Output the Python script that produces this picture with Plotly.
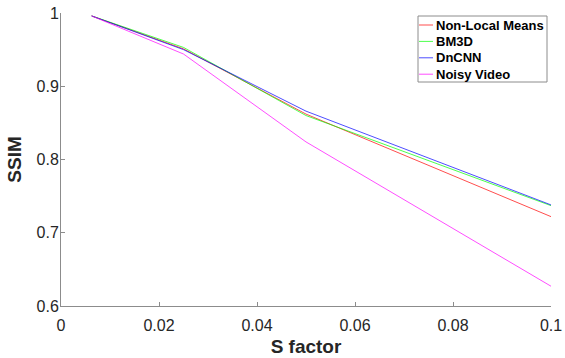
import plotly.graph_objects as go

s_factor = [0.00625, 0.025, 0.05, 0.1]
nlm = [0.996, 0.951, 0.862, 0.722]
bm3d = [0.996, 0.953, 0.860, 0.737]
dncnn = [0.996, 0.950, 0.866, 0.738]
noisy = [0.996, 0.944, 0.824, 0.627]

series = [
    ("Non-Local Means", nlm, "#ff0000"),
    ("BM3D", bm3d, "#00ff00"),
    ("DnCNN", dncnn, "#0000ff"),
    ("Noisy Video", noisy, "#ff00ff"),
]

x_ticks = [0, 0.02, 0.04, 0.06, 0.08, 0.1]
x_tick_text = ["0", "0.02", "0.04", "0.06", "0.08", "0.1"]
y_ticks = [0.6, 0.7, 0.8, 0.9, 1.0]
y_tick_text = ["0.6", "0.7", "0.8", "0.9", "1"]

W, H = 565, 358
ML, MR, MT, MB = 61, 14, 13, 52
PW, PH = W - ML - MR, H - MT - MB


def px_x(p):
    return (p - ML) / PW


def px_y(p):
    return (H - MB - p) / PH


fig = go.Figure()
for name, vals, col in series:
    fig.add_trace(go.Scatter(x=s_factor, y=vals, mode="lines", name=name,
                             line=dict(color=col, width=0.7), showlegend=False))

# MATLAB-style compact legend box
axis_col = "#8c8c8c"
font = "Liberation Sans, Arial, Helvetica, sans-serif"
box_l, box_r, box_t, box_b = 418, 547, 16, 82
shapes = [dict(type="rect", xref="paper", yref="paper",
               x0=px_x(box_l), x1=px_x(box_r), y0=px_y(box_b), y1=px_y(box_t),
               line=dict(color=axis_col, width=1), fillcolor="white", layer="above")]
annotations = []
for i, (name, vals, col) in enumerate(series):
    cy = 25 + 16.4 * i
    shapes.append(dict(type="line", xref="paper", yref="paper",
                       x0=px_x(419), x1=px_x(433), y0=px_y(cy), y1=px_y(cy),
                       line=dict(color=col, width=0.7), layer="above"))
    annotations.append(dict(xref="paper", yref="paper", x=px_x(434), y=px_y(cy),
                            xanchor="left", yanchor="middle", showarrow=False,
                            text="<b>%s</b>" % name,
                            font=dict(family=font, size=13, color="black")))

fig.update_layout(
    width=W, height=H,
    margin=dict(l=ML, r=MR, t=MT, b=MB),
    paper_bgcolor="white", plot_bgcolor="white",
    font=dict(family=font, size=16, color="#262626"),
    shapes=shapes, annotations=annotations,
    xaxis=dict(range=[0, 0.1], tickvals=x_ticks, ticktext=x_tick_text,
               showgrid=False, zeroline=False, showline=True, linecolor=axis_col,
               linewidth=1, ticks="inside", ticklen=4, tickcolor=axis_col,
               ticklabelstandoff=5,
               title=dict(text="<b>S factor</b>", font=dict(size=19, color="#262626"), standoff=6),
               automargin=False),
    yaxis=dict(range=[0.6, 1.0], tickvals=y_ticks, ticktext=y_tick_text,
               showgrid=False, zeroline=False, showline=True, linecolor=axis_col,
               linewidth=1, ticks="inside", ticklen=4, tickcolor=axis_col,
               ticklabelstandoff=-2,
               title=dict(text="<b>SSIM</b>", font=dict(size=19, color="#262626"), standoff=9),
               automargin=False),
)
fig.write_html("out.html", config={"displayModeBar": False},
               post_script="document.body.style.margin='0px';")
